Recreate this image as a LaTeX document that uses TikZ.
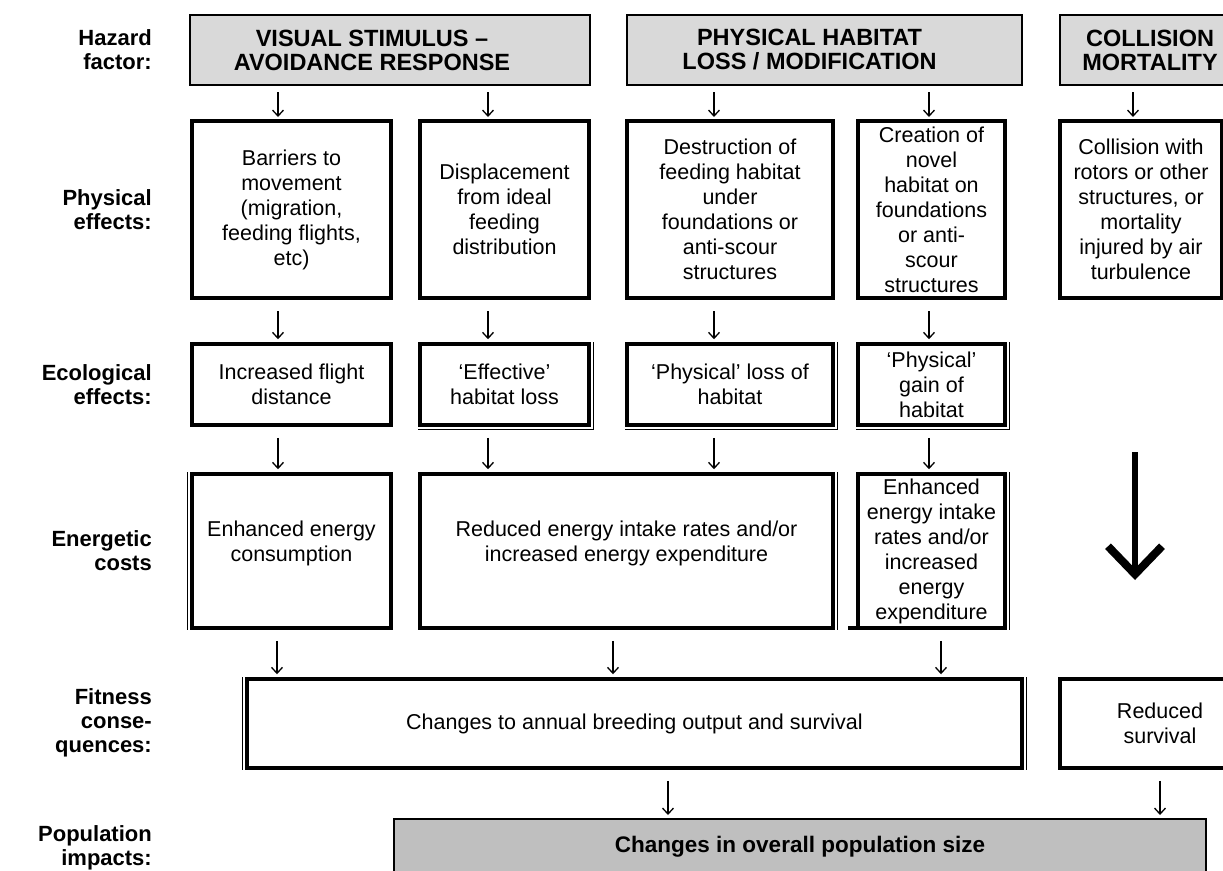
\documentclass[tikz,border=0pt]{standalone}
\usepackage{fontspec}
\setmainfont{Liberation Sans}
\usepackage{tikz}
\usetikzlibrary{shapes.geometric, arrows, arrows.meta, positioning}
\tikzstyle{hazard} = [rectangle, minimum height=70pt, align=center, draw=black, line width=2.5pt, fill=black!15, inner sep=1pt, font=\bfseries\fontsize{23.5}{24}\selectfont]
\tikzstyle{effect} = [rectangle, minimum height=177pt, align=center, draw=black, line width=4pt, inner sep=1pt, font=\fontsize{21.5}{25}\selectfont]
\tikzstyle{ecobox} = [effect, minimum height=81pt, line width=3.5pt]
\tikzstyle{costbox} = [effect, minimum height=154pt, line width=3.5pt]
\tikzstyle{fitbox} = [effect, minimum height=89pt, line width=3.5pt]
\tikzstyle{popbox} = [hazard, minimum height=56pt, line width=2pt, fill=black!25, font=\bfseries\fontsize{22.5}{24}\selectfont]
\tikzstyle{rowlabel} = [anchor=east, align=right, inner sep=0pt, font=\bfseries\fontsize{22}{24}\selectfont]
\tikzstyle{arrow} = [line width=1.3pt, -{Straight Barb[length=6pt,width=11pt]}, shorten <=11pt, shorten >=3pt]
\tikzstyle{bigarrow} = [line width=6pt, -{Straight Barb[length=28pt,width=54pt,line width=8pt]}]
\tikzstyle{thinrule} = [line width=1pt]

\begin{document}
\begin{tikzpicture}[x=1pt, y=-1pt]
		\useasboundingbox (0,0) rectangle (1223,870);
		
		\node (lhazard) [rowlabel] at (152,50) {Hazard\\factor:};
		\node (lphysical) [rowlabel] at (152,210) {Physical\\effects:};
		\node (lecological) [rowlabel] at (152,385) {Ecological\\effects:};
		\node (lenergetic) [rowlabel] at (152,551) {Energetic\\costs};
		\node (lfitness) [rowlabel] at (152,723) {Fitness\\conse-\\quences:};
		\node (lpopulation) [rowlabel] at (152,848) {Population\\impacts:};
		
		\node (hvisual) [hazard, minimum width=400pt] at (390,50) {VISUAL STIMULUS –\hspace*{36pt}\\AVOIDANCE RESPONSE\hspace*{36pt}};
		\node (hhabitat) [hazard, minimum width=395pt] at (824.5,50) {PHYSICAL HABITAT\hspace*{30pt}\\LOSS / MODIFICATION\hspace*{30pt}};
		\node (hcollide) [hazard, minimum width=180pt] at (1150,50) {COLLISION\\MORTALITY};
		
		\node (barriers) [effect, minimum width=199pt] at (291.5,209.5) {Barriers to\\movement\\(migration,\\feeding flights,\\etc)};
		\node (displace) [effect, minimum width=169pt] at (504.5,209.5) {Displacement\\from ideal\\feeding\\distribution};
		\node (destruct) [effect, minimum width=206pt] at (730,209.5) {Destruction of\\feeding habitat\\under\\foundations or\\anti-scour\\structures};
		\node (creation) [effect, minimum width=147pt] at (931.5,209.5) {Creation of\\novel\\habitat on\\foundations\\or anti-\\scour\\structures};
		\node (collide) [effect, minimum width=162pt] at (1141,209.5) {Collision with\\rotors or other\\structures, or\\mortality\\injured by air\\turbulence};
		
		\node (flight) [ecobox, minimum width=199pt] at (291.5,384.5) {Increased flight\\distance};
		\node (effective) [ecobox, minimum width=169pt] at (504.5,384.5) {‘Effective’\\habitat loss};
		\node (loss) [ecobox, minimum width=206pt] at (730,384.5) {‘Physical’ loss of\\habitat};
		\node (gain) [ecobox, minimum width=147pt] at (931.5,384.5) {‘Physical’\\gain of\\habitat};
		
		\node (consume) [costbox, minimum width=199pt] at (291.5,551) {Enhanced energy\\consumption\\[-6pt]\mbox{}};
		\node (reduced) [costbox, minimum width=413pt] at (626.5,551) {Reduced energy intake rates and/or\\increased energy expenditure\\[-6pt]\mbox{}};
		\node (intake) [costbox, minimum width=147pt] at (931.5,551) {Enhanced\\energy intake\\rates and/or\\increased\\energy\\expenditure};
		
		\node (annual) [fitbox, minimum width=775pt] at (634.5,723.5) {Changes to annual breeding output and survival};
		\node (survive) [fitbox, minimum width=200pt] at (1160,723.5) {Reduced\\survival};
		
		\node (population) [popbox, minimum width=812pt] at (800,847) {Changes in overall population size};
		
		\coordinate (colA) at (278,0);
		\coordinate (colB) at (488,0);
		\coordinate (colC) at (714,0);
		\coordinate (colD) at (929,0);
		\coordinate (colE) at (1133,0);
		\coordinate (colF) at (277,0);
		\coordinate (colG) at (613,0);
		\coordinate (colH) at (941,0);
		\coordinate (colI) at (668,0);
		\coordinate (colJ) at (1160,0);
		
		\draw [arrow, shorten <=6pt, shorten >=2pt] (hvisual.south -| colA) -- (barriers.north -| colA);
		\draw [arrow, shorten <=6pt, shorten >=2pt] (hvisual.south -| colB) -- (displace.north -| colB);
		\draw [arrow, shorten <=6pt, shorten >=2pt] (hhabitat.south -| colC) -- (destruct.north -| colC);
		\draw [arrow, shorten <=6pt, shorten >=2pt] (hhabitat.south -| colD) -- (creation.north -| colD);
		\draw [arrow, shorten <=6pt, shorten >=2pt] (hcollide.south -| colE) -- (collide.north -| colE);
		
		\draw [arrow] (barriers.south -| colA) -- (flight.north -| colA);
		\draw [arrow] (displace.south -| colB) -- (effective.north -| colB);
		\draw [arrow] (destruct.south -| colC) -- (loss.north -| colC);
		\draw [arrow] (creation.south -| colD) -- (gain.north -| colD);
		
		\draw [arrow] (flight.south -| colA) -- (consume.north -| colA);
		\draw [arrow] (effective.south -| colB) -- (reduced.north -| colB);
		\draw [arrow] (loss.south -| colC) -- (reduced.north -| colC);
		\draw [arrow] (gain.south -| colD) -- (intake.north -| colD);
		
		\draw [arrow] (consume.south -| colF) -- (annual.north -| colF);
		\draw [arrow] (reduced.south -| colG) -- (annual.north -| colG);
		\draw [arrow] (intake.south -| colH) -- (annual.north -| colH);
		
		\draw [arrow] (annual.south -| colI) -- (population.north -| colI);
		\draw [arrow] (survive.south -| colJ) -- (population.north -| colJ);
		
		\coordinate (bigtop) at (1135,452);
		\coordinate (bigtip) at (1135,580);
		\draw [bigarrow] (bigtop) -- (bigtip);
		
		\draw [thinrule] ([xshift=2.5pt]effective.north east) -- ([xshift=2.5pt,yshift=-2.5pt]effective.south east) -- ([yshift=-2.5pt]effective.south west);
		\draw [thinrule] ([xshift=2.5pt]loss.north east) -- ([xshift=2.5pt,yshift=-2.5pt]loss.south east) -- ([yshift=-2.5pt]loss.south west);
		\draw [thinrule] ([xshift=2.5pt]gain.north east) -- ([xshift=2.5pt,yshift=-2.5pt]gain.south east) -- ([yshift=-2.5pt]gain.south west);
		\draw [thinrule] ([xshift=-2.5pt]consume.north west) -- ([xshift=-2.5pt]consume.south west);
		\draw [thinrule] ([xshift=2.5pt]reduced.north east) -- ([xshift=2.5pt]reduced.south east);
		\draw [thinrule] ([xshift=2.5pt]intake.north east) -- ([xshift=2.5pt]intake.south east);
		\draw [line width=3.5pt] ([xshift=-8pt,yshift=1.75pt]intake.south west) -- ([yshift=1.75pt]intake.south west);
		\draw [thinrule] ([xshift=-2.5pt]annual.north west) -- ([xshift=-2.5pt]annual.south west);
		\draw [thinrule] ([xshift=2.5pt]annual.north east) -- ([xshift=2.5pt]annual.south east);
		
\end{tikzpicture}
\end{document}
